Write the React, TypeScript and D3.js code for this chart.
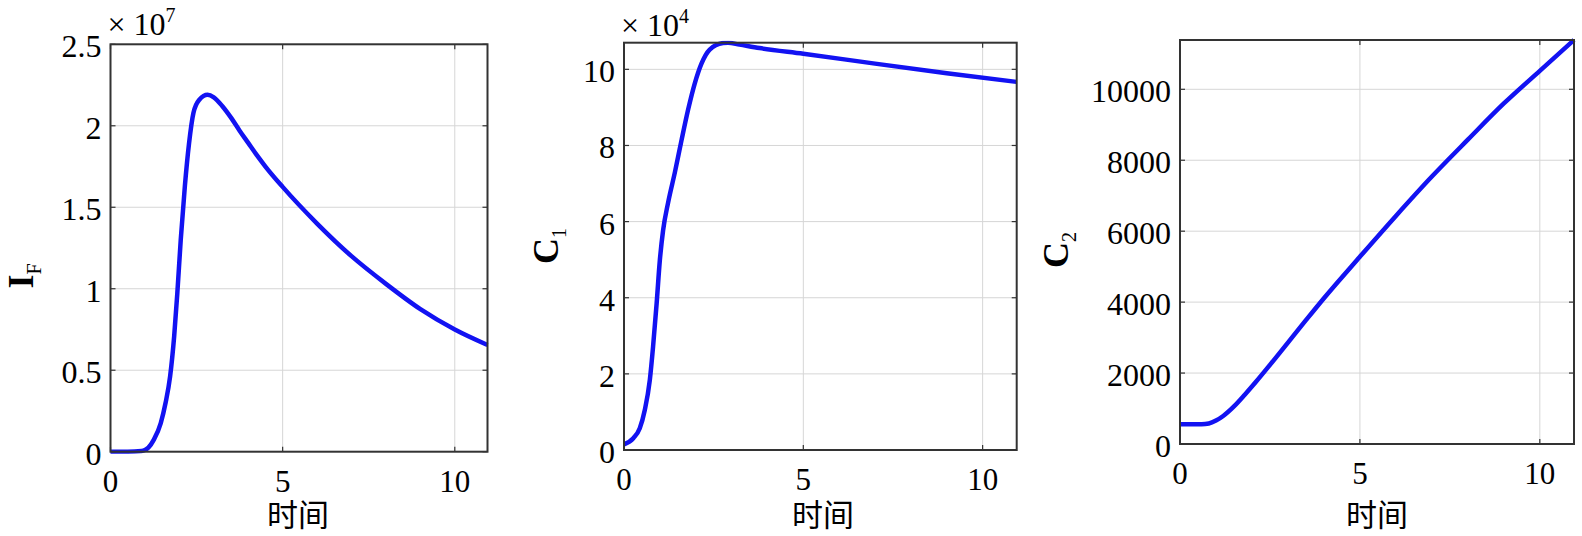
import React, { useEffect, useRef } from 'react';
import * as d3 from 'd3';

// time values (x) and curve values
const ifTime = [0, 0.5, 0.9, 1.0, 1.1, 1.26, 1.46, 1.6, 1.73, 1.85, 1.94, 2.04, 2.16, 2.28, 2.41, 2.58, 2.82, 3.0, 3.25, 3.5, 3.75, 4, 4.25, 4.5, 5, 6, 7, 8, 9, 10, 10.95];
const ifValues = [0, 0, 0.004, 0.01, 0.025, 0.074, 0.176, 0.3, 0.46, 0.71, 0.97, 1.3, 1.63, 1.89, 2.08, 2.16, 2.19, 2.175, 2.12, 2.05, 1.97, 1.895, 1.82, 1.75, 1.625, 1.4, 1.2, 1.03, 0.875, 0.75, 0.655];

const c1Time = [0, 0.26, 0.44, 0.58, 0.72, 0.81, 0.91, 1.0, 1.09, 1.23, 1.42, 1.6, 1.79, 1.97, 2.16, 2.39, 2.76, 2.9, 3.22, 3.78, 5, 7, 9, 10.95];
const c1Values = [0.15, 0.31, 0.57, 1.05, 1.84, 2.71, 3.85, 4.99, 5.77, 6.5, 7.3, 8.12, 8.95, 9.62, 10.15, 10.52, 10.69, 10.7, 10.65, 10.56, 10.41, 10.15, 9.9, 9.67];

const c2Time = [0, 0.6, 0.8, 1.0, 1.2, 1.5, 1.8, 2.1, 2.5, 3.0, 3.5, 4.0, 5.0, 6.0, 7.0, 8.0, 9.0, 10.0, 10.95];
const c2Values = [560, 560, 580, 660, 790, 1060, 1390, 1740, 2230, 2860, 3490, 4110, 5280, 6430, 7540, 8580, 9600, 10520, 11390];

const xTicks = [0, 5, 10];
const ifTicks = [0, 0.5, 1, 1.5, 2, 2.5];
const c1Ticks = [0, 2, 4, 6, 8, 10];
const c2Ticks = [0, 2000, 4000, 6000, 8000, 10000];

const xLabel = '时间';

const serif = '"Liberation Serif", "Times New Roman", serif';
const cjk = '"Noto Sans CJK SC", sans-serif';

const panels = [
  {
    box: { left: 110.5, right: 487.5, top: 44.3, bottom: 451.7 },
    time: ifTime, values: ifValues, yMax: 2.5, yTicks: ifTicks,
    label: 'I', sub: 'F', labelX: 33, labelY: 276,
    exponent: '7', expY: 35, xLabelX: 298,
  },
  {
    box: { left: 624, right: 1016.7, top: 42.7, bottom: 450 },
    time: c1Time, values: c1Values, yMax: 10.7, yTicks: c1Ticks,
    label: 'C', sub: '1', labelX: 558, labelY: 246,
    exponent: '4', expY: 36, xLabelX: 823,
  },
  {
    box: { left: 1180, right: 1574, top: 40, bottom: 444 },
    time: c2Time, values: c2Values, yMax: 11390, yTicks: c2Ticks,
    label: 'C', sub: '2', labelX: 1068, labelY: 250,
    exponent: null, expY: 0, xLabelX: 1377,
  },
];

const App = () => {
  const chartRef = useRef<SVGSVGElement>(null);

  useEffect(() => {
    const svg = d3.select(chartRef.current);
    svg.selectAll('*').remove();

    panels.forEach(p => {
      const { left, right, top, bottom } = p.box;
      const x = d3.scaleLinear().domain([0, 10.95]).range([left, right]);
      const y = d3.scaleLinear().domain([0, p.yMax]).range([bottom, top]);
      const g = svg.append('g');

      // grid
      g.selectAll('.gx').data(xTicks).enter().append('line')
        .attr('x1', d => x(d)).attr('x2', d => x(d))
        .attr('y1', top).attr('y2', bottom)
        .style('stroke', '#d6d6d6').style('stroke-width', 1);
      g.selectAll('.gy').data(p.yTicks).enter().append('line')
        .attr('x1', left).attr('x2', right)
        .attr('y1', d => y(d)).attr('y2', d => y(d))
        .style('stroke', '#d6d6d6').style('stroke-width', 1);

      // curve
      const pts = p.time.map((t, i) => [t, p.values[i]] as [number, number]);
      const line = d3.line<[number, number]>()
        .x(d => x(d[0]))
        .y(d => y(d[1]))
        .curve(d3.curveMonotoneX);
      const clipId = `clip-${Math.round(left)}`;
      svg.append('clipPath').attr('id', clipId).append('rect')
        .attr('x', left - 2).attr('y', top - 2)
        .attr('width', right - left + 4).attr('height', bottom - top + 4);
      g.append('path')
        .datum(pts)
        .attr('d', line)
        .attr('clip-path', `url(#${clipId})`)
        .style('fill', 'none')
        .style('stroke', '#1212f2')
        .style('stroke-width', 4.5)
        .style('stroke-linejoin', 'round');

      // inward ticks on all four sides
      const tl = 5;
      xTicks.forEach(t => {
        g.append('line').attr('x1', x(t)).attr('x2', x(t)).attr('y1', bottom).attr('y2', bottom - tl)
          .style('stroke', '#333').style('stroke-width', 1.2);
        g.append('line').attr('x1', x(t)).attr('x2', x(t)).attr('y1', top).attr('y2', top + tl)
          .style('stroke', '#333').style('stroke-width', 1.2);
      });
      p.yTicks.forEach(t => {
        g.append('line').attr('x1', left).attr('x2', left + tl).attr('y1', y(t)).attr('y2', y(t))
          .style('stroke', '#333').style('stroke-width', 1.2);
        g.append('line').attr('x1', right).attr('x2', right - tl).attr('y1', y(t)).attr('y2', y(t))
          .style('stroke', '#333').style('stroke-width', 1.2);
      });

      // box
      g.append('rect')
        .attr('x', left).attr('y', top)
        .attr('width', right - left).attr('height', bottom - top)
        .style('fill', 'none').style('stroke', '#333').style('stroke-width', 2);

      // tick labels
      g.selectAll('.xt').data(xTicks).enter().append('text')
        .attr('x', d => x(d)).attr('y', bottom + 40)
        .attr('text-anchor', 'middle')
        .style('font-family', serif).style('font-size', '31px')
        .text(d => String(d));
      g.selectAll('.yt').data(p.yTicks).enter().append('text')
        .attr('x', left - 9).attr('y', d => y(d) + 13)
        .attr('text-anchor', 'end')
        .style('font-family', serif).style('font-size', '32px')
        .text(d => String(d));

      // exponent
      if (p.exponent) {
        const e = g.append('text')
          .attr('x', left - 3).attr('y', p.expY)
          .style('font-family', serif).style('font-size', '32px');
        e.append('tspan').text('× 10');
        e.append('tspan').attr('dy', -13).style('font-size', '20px').text(p.exponent);
      }

      // y label
      const yl = g.append('text')
        .attr('transform', `translate(${p.labelX},${p.labelY}) rotate(-90)`)
        .attr('text-anchor', 'middle')
        .style('font-family', serif).style('font-size', '36px').style('font-weight', 'bold');
      yl.append('tspan').text(p.label);
      yl.append('tspan').attr('dy', 8).style('font-size', '20px').style('font-weight', 'normal').text(p.sub);

      // x label
      g.append('text')
        .attr('x', p.xLabelX).attr('y', 526)
        .attr('text-anchor', 'middle')
        .style('font-family', cjk).style('font-size', '31px')
        .text(xLabel);
    });
  }, []);

  return (
    <svg
      ref={chartRef}
      width={1582}
      height={536}
      style={{ position: 'absolute', left: 0, top: 0, background: '#fff' }}
    />
  );
};

export default App;
